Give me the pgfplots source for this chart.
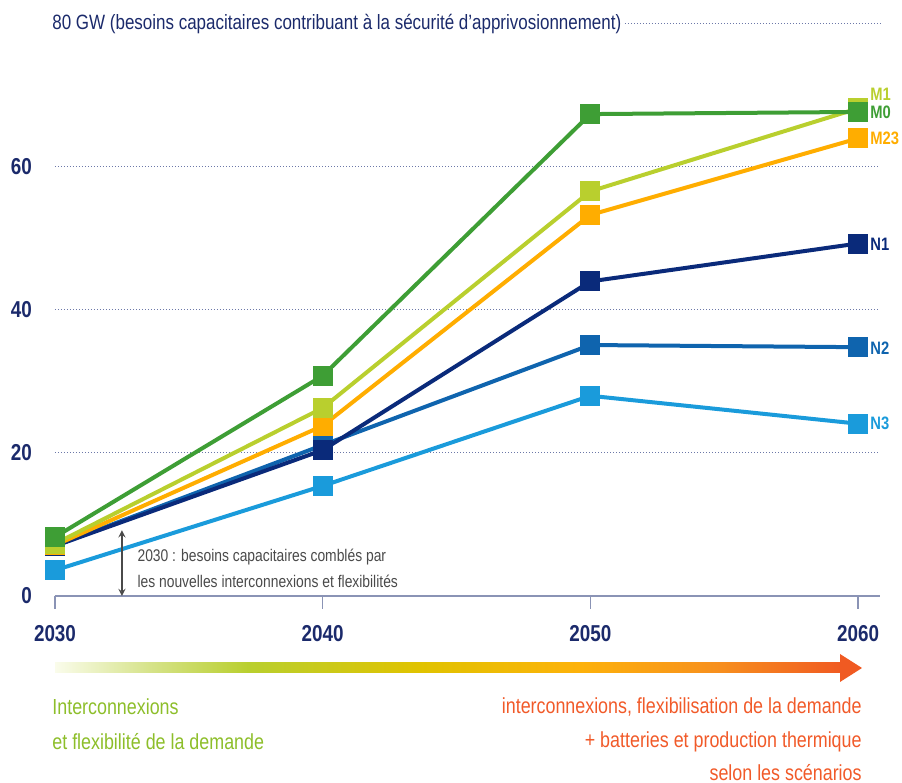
\documentclass[border=0pt]{standalone}
\usepackage{fontspec}
\setmainfont{Liberation Sans}[FakeStretch=0.82]
\usepackage{pgfplots}
\pgfplotsset{compat=1.18}
\definecolor{Navy}{HTML}{1B2A6B}
\definecolor{AxisGray}{HTML}{8A93B5}
\definecolor{GridBlue}{HTML}{6C78A8}
\definecolor{cMzero}{HTML}{3E9E35}
\definecolor{cMone}{HTML}{B9CF2E}
\definecolor{cMtt}{HTML}{FFAD00}
\definecolor{cNone}{HTML}{0A2A7A}
\definecolor{cNtwo}{HTML}{0F64AE}
\definecolor{cNthree}{HTML}{1A9BDB}
\definecolor{NoteGray}{HTML}{4A4A4A}
\definecolor{TxtGreen}{HTML}{8DBE2A}
\definecolor{TxtOrange}{HTML}{F15A29}
\definecolor{gA}{HTML}{FAFCEB}
\definecolor{gB}{HTML}{D6E38A}
\definecolor{gC}{HTML}{E0C300}
\definecolor{gD}{HTML}{FDB20A}
\definecolor{gE}{HTML}{F7901E}
\definecolor{gF}{HTML}{F05A22}
\pgfdeclarehorizontalshading{arrowshade}{100bp}{%
  color(0bp)=(white);
  color(25bp)=(gA);
  color(31bp)=(gB);
  color(37.3bp)=(cMone);
  color(48.1bp)=(gC);
  color(58.2bp)=(gD);
  color(67bp)=(gE);
  color(75bp)=(gF);
  color(100bp)=(gF)}

\begin{document}
\begin{tikzpicture}
\useasboundingbox (0,0) rectangle (451pt,391.5pt);
\begin{axis}[
  at={(27.5pt,93.5pt)}, anchor=south west,
  scale only axis, width=412.5pt, height=286pt,
  xmin=2030, xmax=2060.82, ymin=0, ymax=80,
  xtick={2030,2040,2050,2060}, xticklabels={2030,2040,2050,2060},
  ytick={0,20,40,60},
  axis line style={draw=none},
  xtick pos=bottom, ytick style={draw=none},
  tick align=outside, major tick length=6.5pt,
  xtick style={draw=AxisGray, line width=0.8pt},
  ymajorgrids, grid style={GridBlue, dash pattern=on 0.5pt off 1pt, line width=0.5pt},
  tick label style={font=\fontsize{11.5}{13}\selectfont\bfseries, text=Navy},
  yticklabel style={xshift=-1.5pt},
  xticklabel style={yshift=-4.5pt},
  /pgf/number format/assume math mode=true,
  clip=false,
  every axis plot/.append style={line width=2pt, mark=square*, mark size=4pt},
]
\draw[AxisGray, line width=0.8pt] (axis cs:2030,0) -- (axis cs:2060.82,0);
\draw[GridBlue, dash pattern=on 0.5pt off 1pt, line width=0.5pt] (axis cs:2051.29,80) -- (axis cs:2060.82,80);
\addplot[cNthree] coordinates {(2030,3.6) (2040,15.4) (2050,28.0) (2060,24.1)};
\addplot[cNtwo] coordinates {(2030,7.0) (2040,21.1) (2050,35.1) (2060,34.8)};
\addplot[cNone] coordinates {(2030,7.0) (2040,20.4) (2050,44.0) (2060,49.3)};
\addplot[cMtt] coordinates {(2030,7.1) (2040,23.8) (2050,53.3) (2060,64.0)};
\addplot[cMone] coordinates {(2030,7.3) (2040,26.3) (2050,56.6) (2060,68.2)};
\addplot[cMzero] coordinates {(2030,8.25) (2040,30.8) (2050,67.4) (2060,67.7)};
\node[anchor=west, inner sep=0, xshift=-1.5pt, text=Navy, font=\fontsize{10.35}{12}\selectfont]
  at (axis cs:2030,80) {80 GW (besoins capacitaires contribuant à la sécurité d’apprivosionnement)};
\begin{scope}[every node/.style={anchor=west, inner sep=0, xshift=6pt, font=\fontsize{9}{11}\selectfont\bfseries}]
\node[text=cMone] at (axis cs:2060,70.2) {M1};
\node[text=cMzero] at (axis cs:2060,67.6) {M0};
\node[text=cMtt] at (axis cs:2060,64.0) {M23};
\node[text=cNone] at (axis cs:2060,49.2) {N1};
\node[text=cNtwo] at (axis cs:2060,34.7) {N2};
\node[text=cNthree] at (axis cs:2060,24.1) {N3};
\end{scope}
\draw[<->, >=stealth, NoteGray, line width=0.6pt] (axis cs:2032.5,0) -- (axis cs:2032.5,9.2);
\node[anchor=west, inner sep=0, text=NoteGray, font=\fontsize{8.45}{10}\selectfont] at (axis cs:2033.07,5.45) {2030 : besoins capacitaires comblés par};
\node[anchor=west, inner sep=0, text=NoteGray, font=\fontsize{8.45}{10}\selectfont] at (axis cs:2033.07,2.1) {les nouvelles interconnexions et flexibilités};
\end{axis}
\shade[shading=arrowshade] (27.5pt,55pt) rectangle (421pt,60pt);
\fill[gF] (420pt,64.5pt) -- (431pt,57.5pt) -- (420pt,50.5pt) -- cycle;
\begin{scope}[every node/.style={inner sep=0, font=\fontsize{10.9}{12}\selectfont}]
\node[anchor=west, text=TxtGreen] at (26pt,38pt) {Interconnexions};
\node[anchor=west, text=TxtGreen] at (26pt,20.5pt) {et flexibilité de la demande};
\node[anchor=east, text=TxtOrange] at (431pt,38pt) {interconnexions, flexibilisation de la demande};
\node[anchor=east, text=TxtOrange] at (431pt,20.5pt) {+ batteries et production thermique};
\node[anchor=east, text=TxtOrange] at (431pt,5pt) {selon les scénarios};
\end{scope}
\end{tikzpicture}
\end{document}
